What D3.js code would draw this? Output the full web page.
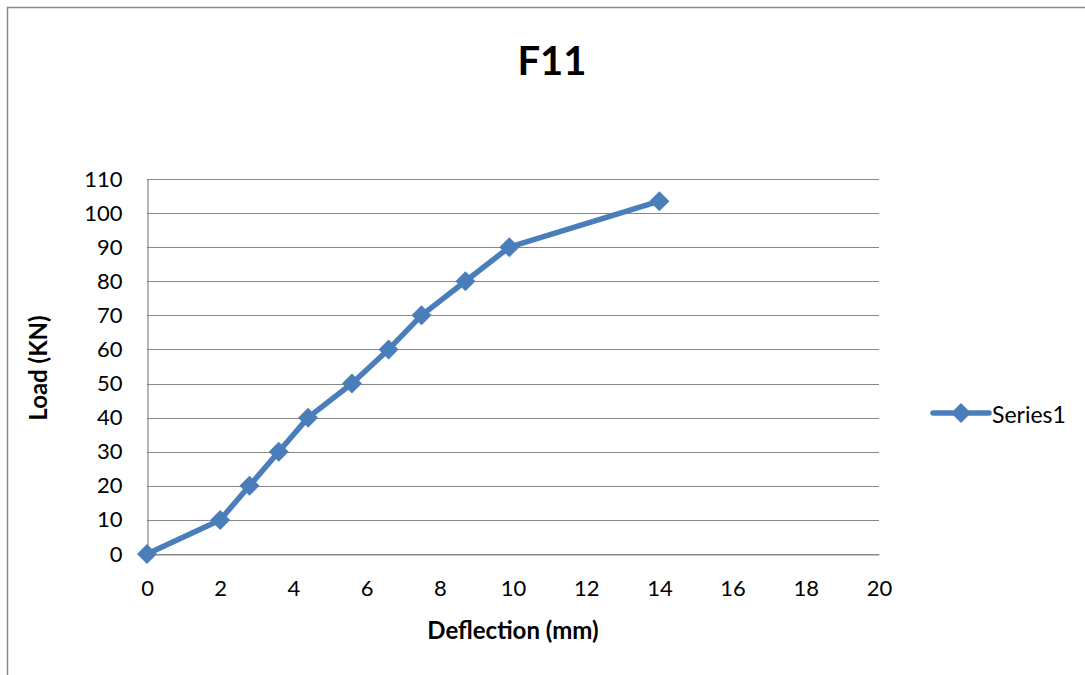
<!DOCTYPE html>
<html>
<head>
<meta charset="utf-8">
<script src="https://cdn.jsdelivr.net/npm/d3@7"></script>
<style>
  body { margin: 0; background: #fff; }
  svg { display: block; font-family: Lato, "Open Sans", sans-serif; }
</style>
</head>
<body>
<div id="chart"></div>
<script>
const deflection = [0, 2, 2.8, 3.6, 4.4, 5.6, 6.6, 7.5, 8.7, 9.9, 14];
const load = [0, 10, 20, 30, 40, 50, 60, 70, 80, 90, 103.5];
const xTicks = [0, 2, 4, 6, 8, 10, 12, 14, 16, 18, 20];
const yTicks = [0, 10, 20, 30, 40, 50, 60, 70, 80, 90, 100, 110];
const seriesName = 'Series1';

const width = 1085;
const height = 675;
const margin = {top: 179, right: 206, bottom: 121, left: 147};
const color = '#4a7ebb';

const svg = d3.select('#chart')
    .append('svg')
    .attr('width', width)
    .attr('height', height);

// outer chart border (only top/left are inside the view)
svg.append('rect')
    .attr('x', 7.5).attr('y', 7.5)
    .attr('width', width + 20).attr('height', height + 20)
    .attr('fill', 'none')
    .attr('stroke', '#868686')
    .attr('stroke-width', 1.5);

const x = d3.scaleLinear()
    .domain([0, 20])
    .range([margin.left, width - margin.right]);

const y = d3.scaleLinear()
    .domain([0, 110])
    .range([height - margin.bottom, margin.top]);

// gridlines
svg.append('g')
    .attr('stroke', '#878787')
    .attr('stroke-width', 1.2)
    .selectAll('line')
    .data(yTicks)
    .join('line')
        .attr('x1', x(0))
        .attr('x2', x(20))
        .attr('y1', d => Math.round(y(d)) + 0.5)
        .attr('y2', d => Math.round(y(d)) + 0.5);

function xAxis(g) {
    g.attr('transform', `translate(0, ${Math.round(y(0)) + 0.5})`)
        .call(d3.axisBottom(x).tickValues(xTicks).tickSize(0).tickPadding(26))
        .attr('font-size', '22px')
        .attr('font-family', null);
    g.select('.domain').attr('stroke', '#878787').attr('stroke-width', 1.2);
    g.selectAll('text').attr('fill', '#000');
}

function yAxis(g) {
    g.attr('transform', `translate(${Math.round(x(0)) + 0.5}, 0)`)
        .call(d3.axisLeft(y).tickValues(yTicks).tickSize(0).tickPadding(25))
        .attr('font-size', '22px')
        .attr('font-family', null);
    g.select('.domain').attr('stroke', '#878787').attr('stroke-width', 1.2);
    g.selectAll('text').attr('fill', '#000');
}

svg.append('g').call(xAxis);
svg.append('g').call(yAxis);

const points = deflection.map((d, i) => ({x: d, y: load[i]}));

svg.append('path')
    .datum(points)
    .attr('fill', 'none')
    .attr('stroke', color)
    .attr('stroke-width', 5.5)
    .attr('stroke-linejoin', 'round')
    .attr('d', d3.line().x(d => x(d.x)).y(d => y(d.y)));

const diamond = 'M0,-10L10,0L0,10L-10,0Z';

svg.append('g')
    .attr('fill', color)
    .selectAll('path')
    .data(points)
    .join('path')
        .attr('transform', d => `translate(${x(d.x)},${y(d.y)})`)
        .attr('d', diamond);

// title
svg.append('text')
    .attr('x', 552).attr('y', 75)
    .attr('text-anchor', 'middle')
    .attr('font-size', '40px')
    .attr('font-weight', 'bold')
    .text('F11');

svg.append('text')
    .attr('x', 513).attr('y', 639)
    .attr('text-anchor', 'middle')
    .attr('font-size', '24px')
    .attr('font-weight', 'bold')
    .text('Deflection (mm)');

svg.append('text')
    .attr('transform', 'translate(37, 368) rotate(-90)')
    .attr('text-anchor', 'middle')
    .attr('dominant-baseline', 'central')
    .attr('font-size', '24px')
    .attr('font-weight', 'bold')
    .text('Load (KN)');

// legend
const legend = svg.append('g').attr('transform', 'translate(933, 413)');
legend.append('line')
    .attr('x1', 0).attr('x2', 56)
    .attr('stroke', color).attr('stroke-width', 5.5)
    .attr('stroke-linecap', 'round');
legend.append('path')
    .attr('transform', 'translate(28,0)')
    .attr('d', diamond)
    .attr('fill', color);
legend.append('text')
    .attr('x', 59).attr('y', 1)
    .attr('dominant-baseline', 'central')
    .attr('font-size', '23px')
    .text(seriesName);
</script>
</body>
</html>
